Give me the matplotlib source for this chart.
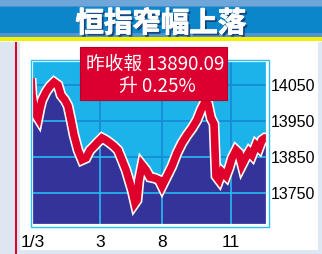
import matplotlib
matplotlib.use("Agg")
import matplotlib.pyplot as plt
import matplotlib.patheffects as pe
from matplotlib.patches import Rectangle

# ---- data ----
positions = [31, 32, 34, 36, 38, 40, 42, 46, 50, 54, 58, 61, 65, 68, 71, 74, 78, 82, 86,
             90, 94, 98, 102, 106, 110, 114, 118, 122, 126, 129, 132, 135, 137, 139, 142,
             146, 150, 155, 159, 162, 167, 172, 177, 182, 187, 192, 197, 201, 205, 208,
             211, 214, 216, 219, 222, 226, 229, 232, 236, 239, 242, 246, 249, 252, 256,
             259, 262, 265, 268]
index_values = [14069, 14022, 13986, 13967, 13958, 13986, 14008, 14031, 14047, 14058, 14050,
                14022, 14008, 13992, 13953, 13911, 13869, 13842, 13847, 13869, 13880, 13892,
                13903, 13897, 13889, 13880, 13869, 13842, 13814, 13786, 13758, 13722, 13730,
                13786, 13828, 13814, 13794, 13791, 13786, 13769, 13797, 13825, 13861, 13889,
                13911, 13930, 13953, 13981, 14003, 13997, 13958, 13942, 13797, 13786, 13808,
                13797, 13819, 13847, 13869, 13861, 13828, 13850, 13864, 13855, 13883, 13875,
                13897, 13903, 13903]
x_tick_pos = [33, 100, 162, 231]
x_tick_labels = ["1/3", "3", "8", "11"]
y_ticks = [13750, 13850, 13950, 14050]
title = "恒指窄幅上落"
box_line1 = "昨收報 13890.09"
box_line2 = "升 0.25%"

W, H = 322, 254
fig = plt.figure(figsize=(W / 100, H / 100), dpi=100)
fig.patch.set_facecolor("white")


def frect(x0, y0, x1, y1, **kw):
    r = Rectangle((x0 / W, 1 - y1 / H), (x1 - x0) / W, (y1 - y0) / H,
                  transform=fig.transFigure, **kw)
    fig.add_artist(r)
    return r


# banner
frect(0, 0, W, 38, color="#0b86cb", lw=0)
frect(0, 0, W, 6, color="#6ea6da", lw=0)
frect(0, 6, W, 7, color="#4a90d0", lw=0)
frect(0, 33, W, 38, color="#4f96d0", lw=0)
frect(0, 37.5, W, 41.5, color="#f5ef00", lw=0)
# lower panel decorations
frect(0, 41.5, 20, H, color="#dde6f1", lw=0)
frect(15, 41.5, 17, H, color="#e0002a", lw=0)
frect(20, 250, W, H, color="#dde8f4", lw=0)
frect(318, 41.5, W, H, color="#dde8f4", lw=0)

fig.text(161 / W, 1 - 24 / H, title, color="white", fontsize=20.5, weight="heavy",
         family=["Noto Sans CJK TC", "DejaVu Sans"], ha="center", va="center",
         path_effects=[pe.withSimplePatchShadow(offset=(1.6, -1.6),
                                                shadow_rgbFace="#173a6e", alpha=0.85),
                       pe.Stroke(linewidth=0.6, foreground="white"), pe.Normal()])

# plot area
ax = fig.add_axes([32 / W, 1 - 225 / H, 235 / W, 164 / H])
ax.set_facecolor("#1cb2ea")
ymin, ymax = 13661, 14117
ax.set_xlim(32, 267)
ax.set_ylim(ymin, ymax)

grid_dark = "#1689d2"
grid_light = "#25bbf2"
for yv in y_ticks:
    ax.axhline(yv, color=grid_dark, lw=1.2, zorder=1)
for xv in x_tick_pos[1:]:
    ax.axvline(xv, color=grid_dark, lw=1.2, zorder=1)

fill = ax.fill_between(positions, index_values, ymin, color="#343399", lw=0, zorder=2)
clip_path = fill.get_paths()[0]
for yv in y_ticks:
    ln = ax.axhline(yv, color=grid_light, lw=1.2, zorder=2.5)
    ln.set_clip_path(clip_path, ax.transData)
for xv in x_tick_pos[1:]:
    ln = ax.axvline(xv, color=grid_light, lw=1.2, zorder=2.5)
    ln.set_clip_path(clip_path, ax.transData)

ax.plot(positions, index_values, color="#e0002c", lw=5.5, zorder=4,
        solid_joinstyle="miter", solid_capstyle="butt",
        path_effects=[pe.SimpleLineShadow(offset=(1.2, -1.2), shadow_color="#555555", alpha=0.5),
                      pe.Stroke(linewidth=7.8, foreground="white"), pe.Normal()])

for s in ax.spines.values():
    s.set_color("white")
    s.set_linewidth(1.6)
    s.set_zorder(5)
frect(30.5, 59.5, 268.5, 226.5, fill=False, edgecolor="#2cc0f0", lw=1)

ax.yaxis.tick_right()
ax.set_yticks(y_ticks)
ax.set_yticklabels([str(v) for v in y_ticks])
ax.set_xticks(x_tick_pos)
ax.set_xticklabels(x_tick_labels)
lab_font = ["Liberation Sans", "DejaVu Sans"]
ax.tick_params(axis="y", length=0, pad=3, labelsize=11.5, labelcolor="black")
ax.tick_params(axis="x", length=0, pad=7, labelsize=12.5, labelcolor="black")
for t in ax.get_yticklabels() + ax.get_xticklabels():
    t.set_family(lab_font)

# red info box
frect(80, 47, 227, 100, facecolor="#dc0030", edgecolor="#b80024", lw=0.8, zorder=10)
box_font = ["Noto Sans CJK TC", "DejaVu Sans"]
fig.text(155 / W, 1 - 64 / H, box_line1, color="white", fontsize=13.5, family=box_font,
         ha="center", va="center", zorder=11)
fig.text(157 / W, 1 - 86 / H, box_line2, color="white", fontsize=13.5, family=box_font,
         ha="center", va="center", zorder=11)

fig.savefig("out.png", dpi=100, facecolor=fig.get_facecolor())
